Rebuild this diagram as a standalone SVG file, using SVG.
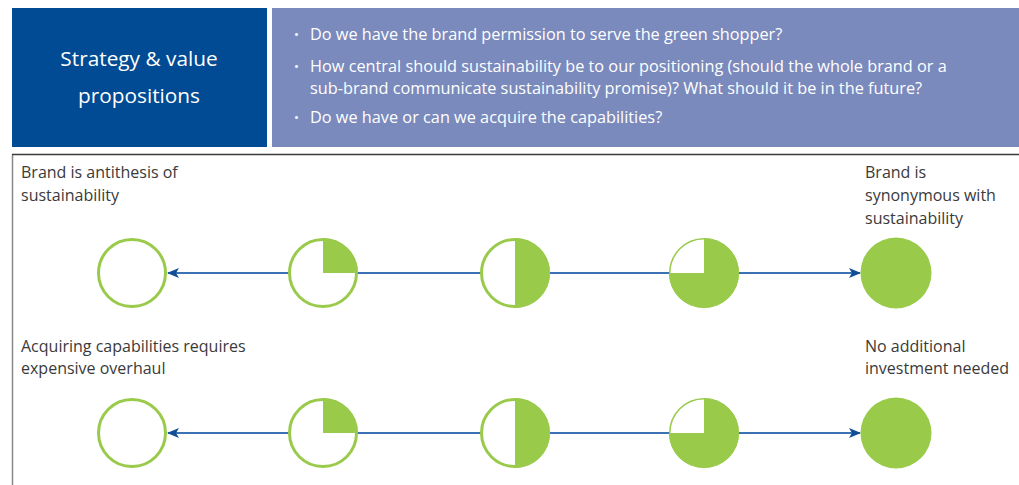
<svg xmlns="http://www.w3.org/2000/svg" width="1019" height="485" viewBox="0 0 1019 485">
<defs>
<style>
.lbl{font-family:"Open Sans","Liberation Sans",sans-serif;font-size:16px;fill:#3a3a3a}
.bul{font-family:"Open Sans","Liberation Sans",sans-serif;font-size:16.3px;fill:#ffffff}
.dot{font-family:"Open Sans","Liberation Sans",sans-serif;font-size:13px;fill:#ffffff}
.ttl{font-family:"Open Sans","Liberation Sans",sans-serif;font-size:20.8px;fill:#ffffff;text-anchor:middle}
.ring{fill:#ffffff;stroke:#99ca4a;stroke-width:3}
.thin{fill:#ffffff;stroke:#99ca4a;stroke-width:1.5}
.fill{fill:#99ca4a}
.conn{stroke:#3a72b5;stroke-width:2;fill:none;marker-end:url(#ah)}
</style>
<marker id="ah" viewBox="0 0 12 10" refX="11" refY="5" markerWidth="12" markerHeight="10" markerUnits="userSpaceOnUse" orient="auto">
<path d="M0,0 L12,5 L0,10 L3,5 Z" fill="#114d96"/>
</marker>
</defs>
<rect width="1019" height="485" fill="#ffffff"/>
<g id="header-title">
<rect x="12" y="8" width="255" height="139" fill="#004b93"/>
<text class="ttl" x="139" y="66">Strategy &amp; value</text>
<text class="ttl" x="139" y="103">propositions</text>
</g>
<g id="header-questions">
<rect x="272" y="8" width="747" height="139" fill="#7a8abd"/>
<text class="dot" x="294" y="39">•</text>
<text class="bul" x="310" y="40">Do we have the brand permission to serve the green shopper?</text>
<text class="dot" x="294" y="71">•</text>
<text class="bul" x="310" y="72">How central should sustainability be to our positioning (should the whole brand or a</text>
<text class="bul" x="310" y="94">sub-brand communicate sustainability promise)? What should it be in the future?</text>
<text class="dot" x="294" y="122">•</text>
<text class="bul" x="310" y="123">Do we have or can we acquire the capabilities?</text>
</g>
<g id="frame">
<path d="M12.5,485 L12.5,154.5" fill="none" stroke="#888888" stroke-width="1.5"/>
<path d="M12,154.5 L1019,154.5" fill="none" stroke="#3a3a3a" stroke-width="1.5"/>
</g>
<g id="connectors">
<line class="conn" x1="323" y1="273" x2="168" y2="273"/>
<line class="conn" x1="323" y1="273" x2="860" y2="273"/>
<line class="conn" x1="323" y1="433" x2="168" y2="433"/>
<line class="conn" x1="323" y1="433" x2="860" y2="433"/>
</g>
<g id="labels-row1">
<text class="lbl" x="21" y="178">Brand is antithesis of</text>
<text class="lbl" x="21" y="201">sustainability</text>
<text class="lbl" x="865" y="178">Brand is</text>
<text class="lbl" x="865" y="201">synonymous with</text>
<text class="lbl" x="865" y="224">sustainability</text>
</g>
<g id="labels-row2">
<text class="lbl" x="21" y="352">Acquiring capabilities requires</text>
<text class="lbl" x="21" y="374">expensive overhaul</text>
<text class="lbl" x="865" y="352">No additional</text>
<text class="lbl" x="865" y="374">investment needed</text>
</g>
<g id="r1-c0"><circle class="ring" cx="132" cy="273" r="33.5"/></g>
<g id="r1-c25"><circle class="ring" cx="323" cy="273" r="33.5"/><path class="fill" d="M323,273 L323,238 A35,35 0 0 1 358,273 Z"/></g>
<g id="r1-c50"><circle class="ring" cx="515" cy="273" r="33.5"/><path class="fill" d="M515,238 A35,35 0 0 1 515,308 Z"/></g>
<g id="r1-c75"><circle class="thin" cx="704" cy="273" r="34.2"/><path class="fill" d="M704,273 L704,238 A35,35 0 1 1 669,273 Z"/></g>
<g id="r1-c100"><circle class="fill" cx="896" cy="273" r="35.5"/></g>
<g id="r2-c0"><circle class="ring" cx="132" cy="433" r="33.5"/></g>
<g id="r2-c25"><circle class="ring" cx="323" cy="433" r="33.5"/><path class="fill" d="M323,433 L323,398 A35,35 0 0 1 358,433 Z"/></g>
<g id="r2-c50"><circle class="ring" cx="515" cy="433" r="33.5"/><path class="fill" d="M515,398 A35,35 0 0 1 515,468 Z"/></g>
<g id="r2-c75"><circle class="thin" cx="704" cy="433" r="34.2"/><path class="fill" d="M704,433 L704,398 A35,35 0 1 1 669,433 Z"/></g>
<g id="r2-c100"><circle class="fill" cx="896" cy="433" r="35.5"/></g>
</svg>
